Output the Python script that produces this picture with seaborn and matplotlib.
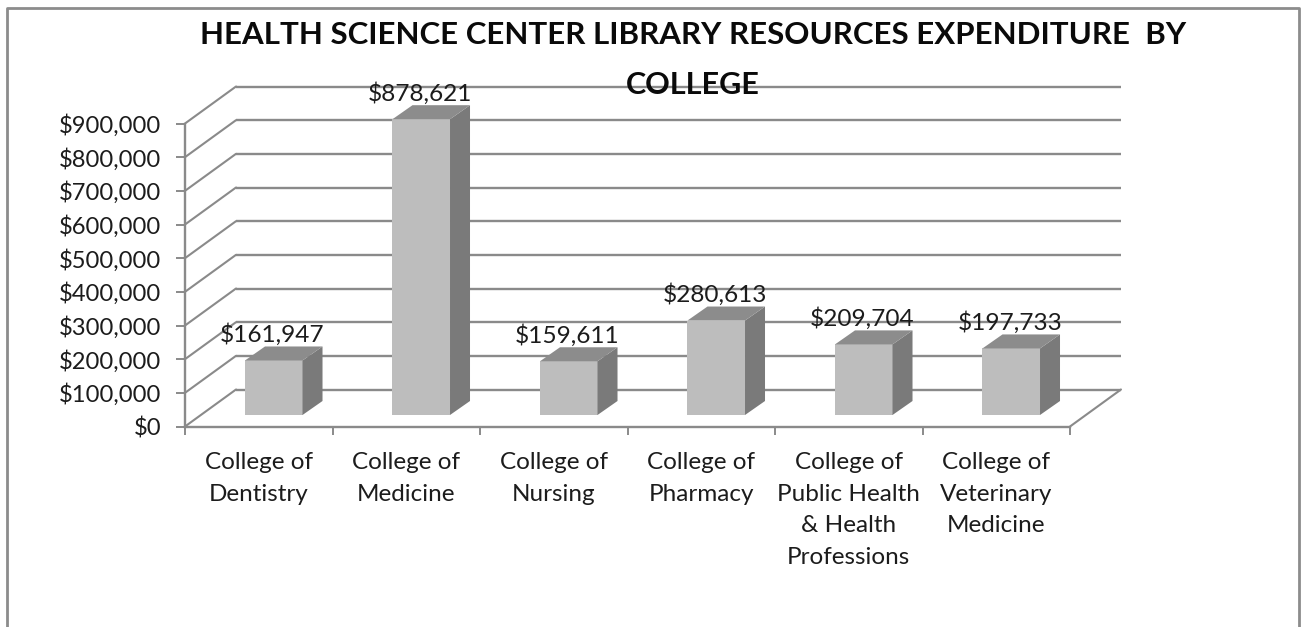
import matplotlib
matplotlib.use("Agg")
import matplotlib.pyplot as plt
import seaborn as sns
import pandas as pd
from matplotlib.lines import Line2D
from matplotlib.patches import Polygon
from matplotlib.transforms import Affine2D, IdentityTransform

colleges = ["College of\nDentistry", "College of\nMedicine", "College of\nNursing",
            "College of\nPharmacy", "College of\nPublic Health\n& Health\nProfessions",
            "College of\nVeterinary\nMedicine"]
expenditure = [161947, 878621, 159611, 280613, 209704, 197733]
y_ticks = [0, 100000, 200000, 300000, 400000, 500000, 600000, 700000, 800000, 900000]
title_line_1 = "HEALTH SCIENCE CENTER LIBRARY RESOURCES EXPENDITURE  BY"
title_line_2 = "COLLEGE"

W, H = 1302, 627
GRID = "#8a8a8a"
sns.set_theme(style="white")
plt.rcParams["font.family"] = ["Lato", "DejaVu Sans"]

fig = plt.figure(figsize=(W / 100, H / 100), dpi=100, facecolor="white")
ax = fig.add_axes([185 / W, (H - 426.5) / H, 885 / W, 303 / H])
ax.patch.set_alpha(0)

df = pd.DataFrame({"college": colleges, "expenditure": expenditure})
sns.barplot(data=df, x="college", y="expenditure", color="#bdbdbd", saturation=1,
            width=0.39, ax=ax, zorder=3)
ax.set_xlim(-0.5, 5.5)
ax.set_ylim(0, 900000)
ax.set_xlabel("")
ax.set_ylabel("")

WALL = (51, 37)
BAR_SHIFT = (15, 11.5)
DEPTH = (20, 14)

# back wall and floor
wall_tf = ax.transData + Affine2D().translate(*WALL)
ax.hlines(y_ticks, -0.5, 5.5, colors=GRID, lw=1.7, transform=wall_tf, clip_on=False, zorder=1)
for v in y_ticks:
    x0, y0 = ax.transData.transform((-0.5, v))
    ax.add_line(Line2D([x0, x0 + WALL[0]], [y0, y0 + WALL[1]], color=GRID, lw=1.5,
                       transform=IdentityTransform(), clip_on=False, zorder=1))
x0, y0 = ax.transData.transform((5.5, 0))
ax.add_line(Line2D([x0, x0 + WALL[0]], [y0, y0 + WALL[1]], color=GRID, lw=1.5,
                   transform=IdentityTransform(), clip_on=False, zorder=1))

# bars: shift front faces, add sides and tops
shift = Affine2D().translate(*BAR_SHIFT)
for patch, val in zip(ax.patches, expenditure):
    patch.set_transform(ax.transData + shift)
    patch.set_clip_on(False)
    patch.set_linewidth(0)
    xl = patch.get_x()
    xr = xl + patch.get_width()
    (lx, by) = ax.transData.transform((xl, 0)) + BAR_SHIFT
    (rx, ty) = ax.transData.transform((xr, val)) + BAR_SHIFT
    dx, dy = DEPTH
    ax.add_patch(Polygon([(rx, by), (rx + dx, by + dy), (rx + dx, ty + dy), (rx, ty)],
                         closed=True, fc="#7a7a7a", ec="none",
                         transform=IdentityTransform(), clip_on=False, zorder=3))
    ax.add_patch(Polygon([(lx, ty), (rx, ty), (rx + dx, ty + dy), (lx + dx, ty + dy)],
                         closed=True, fc="#8c8c8c", ec="none",
                         transform=IdentityTransform(), clip_on=False, zorder=3))
    ax.annotate(f"${val:,.0f}", xy=((xl + xr) / 2, val), xycoords=ax.transData + shift,
                xytext=(-1, 26 * 0.72), textcoords="offset points", ha="center", va="center",
                fontsize=17.6, color="#1c1c1c", zorder=5, annotation_clip=False)

# axes
for s in ("top", "right"):
    ax.spines[s].set_visible(False)
for s in ("left", "bottom"):
    ax.spines[s].set_color(GRID)
    ax.spines[s].set_linewidth(1.7)
    ax.spines[s].set_zorder(2)
ax.set_yticks(y_ticks)
ax.set_yticklabels([f"${v:,.0f}" for v in y_ticks])
ax.tick_params(axis="y", length=6.5, width=1.4, color=GRID, pad=10.5, labelsize=17.1,
               labelcolor="#1c1c1c", left=True)
ax.set_xticks([-0.5, 0.5, 1.5, 2.5, 3.5, 4.5, 5.5], minor=True)
ax.tick_params(axis="x", which="minor", length=5.5, width=1.4, color=GRID, bottom=True)
ax.tick_params(axis="x", which="major", length=0, pad=18.5, labelsize=17.5, labelcolor="#1c1c1c")
for lab in ax.get_xticklabels():
    lab.set_linespacing(1.62)

fig.text(693.5 / W, 1 - 35 / H, title_line_1, ha="center", va="center", fontsize=22.5,
         fontweight="bold", color="#0a0a0a", zorder=6)
fig.text(692.5 / W, 1 - 85 / H, title_line_2, ha="center", va="center", fontsize=22,
         fontweight="bold", color="#0a0a0a", zorder=6)

# outer chart frame, open at the lower edge of the crop
fig.add_artist(Line2D([7 / W, 7 / W, 1299 / W, 1299 / W],
                      [0, 1 - 8 / H, 1 - 8 / H, 0], color="#8c8c8c", lw=2,
                      transform=fig.transFigure))

fig.savefig("out.png", dpi=100)
